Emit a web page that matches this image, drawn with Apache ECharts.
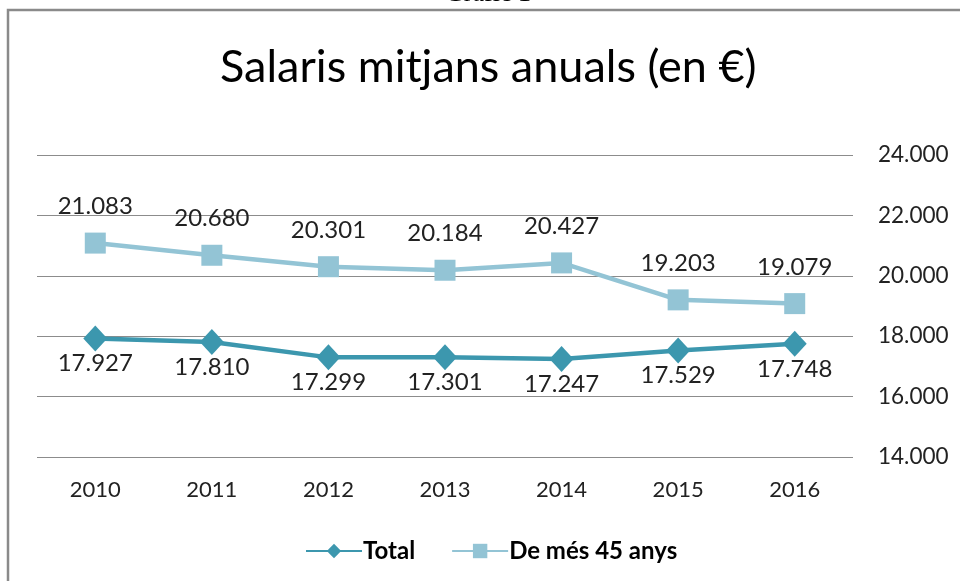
<!DOCTYPE html>
<html>
<head>
<meta charset="utf-8">
<title>Salaris mitjans anuals</title>
<script src="https://cdn.jsdelivr.net/npm/echarts@6/dist/echarts.min.js"></script>
<style>
  html, body { margin: 0; padding: 0; background: #fff; }
  #chart { width: 960px; height: 581px; }
</style>
</head>
<body>
<div id="chart"></div>
<script>
// dades del gràfic
const anys = ['2010', '2011', '2012', '2013', '2014', '2015', '2016'];
const total = [17927, 17810, 17299, 17301, 17247, 17529, 17748];
const mes45 = [21083, 20680, 20301, 20184, 20427, 19203, 19079];
const ticksY = [14000, 16000, 18000, 20000, 22000, 24000];

// format amb punt de milers (17.927)
function milers(v) {
  return String(v).replace(/\B(?=(\d{3})+(?!\d))/g, '.');
}

const chart = echarts.init(document.getElementById('chart'));

const option = {
  backgroundColor: '#fff',
  animation: false,
  textStyle: { fontFamily: 'Lato' },
  title: {
    text: 'Salaris mitjans anuals (en €)',
    left: 215,
    top: 40,
    textStyle: { fontFamily: 'Lato', fontSize: 45, fontWeight: 'normal', color: '#000' }
  },
  graphic: [
    {
      type: 'rect',
      shape: { x: 8, y: 10, width: 1000, height: 700 },
      style: { fill: 'none', stroke: '#8a8a8a', lineWidth: 2.5 },
      silent: true
    },
    {
      type: 'text',
      x: 488,
      y: 7,
      style: {
        text: 'Gràfic 1',
        font: '26px "Liberation Serif"',
        fill: '#000',
        align: 'center',
        verticalAlign: 'bottom'
      },
      silent: true
    }
  ],
  legend: {
    left: 300,
    top: 534,
    itemWidth: 56,
    itemHeight: 18,
    itemGap: 36,
    textStyle: { fontFamily: 'Lato', fontSize: 24, fontWeight: 'bold', color: '#000', padding: [0, 0, 0, -4] },
    data: ['Total', 'De més 45 anys']
  },
  grid: { left: 37, right: 107, top: 155, bottom: 124 },
  xAxis: {
    type: 'category',
    data: anys,
    boundaryGap: true,
    axisLine: { show: false },
    axisTick: { show: false },
    axisLabel: { fontSize: 22, color: '#222', margin: 22 }
  },
  yAxis: {
    type: 'value',
    position: 'right',
    min: ticksY[0],
    max: ticksY[ticksY.length - 1],
    interval: 2000,
    axisLine: { show: false },
    axisTick: { show: false },
    splitLine: { lineStyle: { color: '#8c8c8c', width: 1.2 } },
    axisLabel: { fontSize: 22.5, color: '#222', margin: 25, formatter: milers }
  },
  series: [
    {
      name: 'Total',
      type: 'line',
      data: total,
      symbol: 'diamond',
      symbolSize: [24, 26],
      lineStyle: { color: '#3c97ae', width: 4.5 },
      itemStyle: { color: '#3c97ae' },
      label: {
        show: true,
        position: 'bottom',
        distance: 0,
        fontSize: 24,
        color: '#222',
        formatter: p => milers(p.value)
      },
      z: 3
    },
    {
      name: 'De més 45 anys',
      type: 'line',
      data: mes45,
      symbol: 'rect',
      symbolSize: 21,
      lineStyle: { color: '#93c4d5', width: 4.5 },
      itemStyle: { color: '#93c4d5' },
      label: {
        show: true,
        position: 'top',
        distance: 14,
        fontSize: 24,
        color: '#222',
        formatter: p => milers(p.value)
      },
      z: 2
    }
  ]
};

chart.setOption(option);
window.addEventListener('resize', () => chart.resize());
</script>
</body>
</html>
